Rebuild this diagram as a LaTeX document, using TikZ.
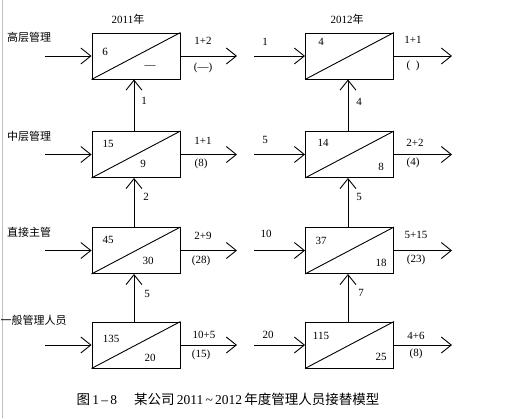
\documentclass[tikz,border=0pt]{standalone}
\usepackage{fontspec}
\setmainfont{Liberation Serif}
\newfontfamily\cjk{Noto Sans CJK SC}
\usetikzlibrary{arrows.meta}
\begin{document}
\begin{tikzpicture}[x=1pt,y=-1pt,
  every node/.style={font=\fontsize{11}{12}\selectfont, inner sep=0pt},
  boxn/.style={draw, line width=0.9pt, minimum width=88pt, minimum height=46pt},
  arr/.style={line width=0.9pt, -{Straight Barb[length=10pt,width=16pt,line width=0.9pt]}},
  diag/.style={line width=0.9pt},
  lvl/.style={anchor=west, font=\cjk\fontsize{11}{12}\selectfont},
  num/.style={font=\fontsize{11}{12}\selectfont}]
\useasboundingbox (0,0) rectangle (516,418);
\draw[black!25, line width=0.8pt] (2,0) -- (2,418);

% year titles
\node[num] (y1) at (128,19) {2011\cjk 年};
\node[num] (y2) at (347,19) {2012\cjk 年};

% level labels
\node[lvl] (t1) at (7,37) {高层管理};
\node[lvl] (t2) at (7,136) {中层管理};
\node[lvl] (t3) at (7,232) {直接主管};
\node[lvl] (t4) at (0.5,320) {一般管理人员};

% boxes
\foreach \n/\y in {1/56,2/154.5,3/250.5,4/345}{
  \node[boxn] (L\n) at (136,\y) {};
  \node[boxn] (R\n) at (349.5,\y) {};
  \draw[diag] (L\n.south west) -- (L\n.north east);
  \draw[diag] (R\n.south west) -- (R\n.north east);
  \coordinate (Lin\n) at (45,\y);
  \coordinate (Lout\n) at (237,\y);
  \coordinate (Rin\n) at (254,\y);
  \coordinate (Rout\n) at (452,\y);
  \draw[arr] (Lin\n) -- (L\n.west);
  \draw[arr] (L\n.east) -- (Lout\n);
  \draw[arr] (Rin\n) -- (R\n.west);
  \draw[arr] (R\n.east) -- (Rout\n);
}
% vertical arrows
\draw[arr] ([xshift=-2pt]L2.north) -- ([xshift=-2pt]L1.south);
\draw[arr] ([xshift=-2pt]L3.north) -- ([xshift=-2pt]L2.south);
\draw[arr] ([xshift=-2pt]L4.north) -- ([xshift=-2pt]L3.south);
\draw[arr] ([xshift=-1.5pt]R2.north) -- ([xshift=-1.5pt]R1.south);
\draw[arr] ([xshift=-1.5pt]R3.north) -- ([xshift=-1.5pt]R2.south);
\draw[arr] ([xshift=-1.5pt]R4.north) -- ([xshift=-1.5pt]R3.south);

% vertical arrow labels
\node[num] (v1) at (144,101) {1};
\node[num] (v2) at (146,197) {2};
\node[num] (v3) at (147,294) {5};
\node[num] (v4) at (359,102) {4};
\node[num] (v5) at (359,197) {5};
\node[num] (v6) at (361,293) {7};

% numbers in boxes (left)
\node[num] (a1) at (105,52) {6};
\node[num] (b1) at (150,67) {—};
\node[num] (a2) at (108,144) {15};
\node[num] (b2) at (143,164) {9};
\node[num] (a3) at (108,240) {45};
\node[num] (b3) at (148,261) {30};
\node[num] (a4) at (111,339) {135};
\node[num] (b4) at (150,358) {20};
% numbers in boxes (right)
\node[num] (c1) at (321,42) {4};
\node[num] (c2) at (323,143) {14};
\node[num] (d2) at (381,167) {8};
\node[num] (c3) at (321,241) {37};
\node[num] (d3) at (381,263) {18};
\node[num] (c4) at (321,336) {115};
\node[num] (d4) at (381,357) {25};

% output labels left
\node[num] (o1) at (203,41) {1+2};
\node[num] (p1) at (203,68) {(—)};
\node[num] (o2) at (203,141) {1+1};
\node[num] (p2) at (201,164) {(8)};
\node[num] (o3) at (203,236) {2+9};
\node[num] (p3) at (201,261) {(28)};
\node[num] (o4) at (204,335) {10+5};
\node[num] (p4) at (201,355) {(15)};
% output labels right
\node[num] (q1) at (413,40) {1+1};
\node[num] (r1) at (413,66) {(\ \ )};
\node[num] (q2) at (415,143) {2+2};
\node[num] (r2) at (413,163) {(4)};
\node[num] (q3) at (416,235) {5+15};
\node[num] (r3) at (416,260) {(23)};
\node[num] (q4) at (416,336) {4+6};
\node[num] (r4) at (416,354) {(8)};
% right inputs
\node[num] (i1) at (265,42) {1};
\node[num] (i2) at (265,140) {5};
\node[num] (i3) at (266,234) {10};
\node[num] (i4) at (268,335) {20};

% caption
\node (cap) at (228,399) {\fontsize{13.5}{15}\selectfont{\cjk 图}\,1\,–\,8\quad\ {\cjk 某公司}\,2011\,\textasciitilde\,2012\,{\cjk 年度管理人员接替模型}};
\end{tikzpicture}
\end{document}
